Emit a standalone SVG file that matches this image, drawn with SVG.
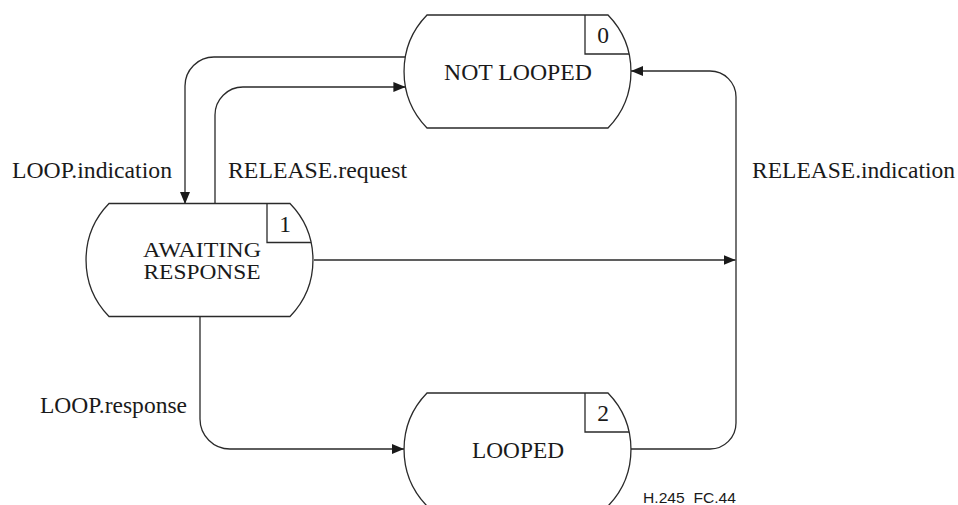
<svg xmlns="http://www.w3.org/2000/svg" width="958" height="505" viewBox="0 0 958 505">
  <style>
    .node { fill: #ffffff; stroke: #2a2a2a; stroke-width: 1.3; }
    .box { fill: none; stroke: #2a2a2a; stroke-width: 1.3; }
    .conn { fill: none; stroke: #2a2a2a; stroke-width: 1.3; }
    .t { font-size: 23.5px; fill: #1a1a1a; }
    .s { font-size: 21px; }
    .c { text-anchor: middle; }
    .ref { font-family: 'Liberation Sans', Arial, sans-serif; font-size: 15px; fill: #1a1a1a; white-space: pre; }
  </style>
  <defs>
    <marker id="arr" markerWidth="12" markerHeight="10" refX="12" refY="5" orient="auto" markerUnits="userSpaceOnUse">
      <path d="M0,0 L12,5 L0,10 Z" fill="#1a1a1a"/>
    </marker>
  </defs>
  <rect width="958" height="505" fill="#ffffff"/>

  <g id="connectors">
    <path class="conn" d="M405.3,57 H214 A29,29 0 0 0 185,86 V204" marker-end="url(#arr)"/>
    <path class="conn" d="M215,204 V115 A28,28 0 0 1 243,87 H405.4" marker-end="url(#arr)"/>
    <path class="conn" d="M314,260 H735.5" marker-end="url(#arr)"/>
    <path class="conn" d="M631,449 H710 A26,26 0 0 0 736,423 V97 A26,26 0 0 0 710,71 H631" marker-end="url(#arr)"/>
    <path class="conn" d="M200,316 V419 A30,30 0 0 0 230,449 H404" marker-end="url(#arr)"/>
  </g>

  <g font-family="Liberation Serif, DejaVu Serif, Noto Serif, serif">
  <g id="node-not-looped">
    <path class="node" d="M427,15 H608 A81,81 0 0 1 608,128 H427 A81,81 0 0 1 427,15 Z"/>
    <path class="box" d="M585,15 V54 H629.1"/>
    <text class="t c" x="603" y="43">0</text>
    <text class="t c" x="518" y="80" textLength="148" lengthAdjust="spacingAndGlyphs">NOT LOOPED</text>
  </g>

  <g id="node-awaiting-response">
    <path class="node" d="M109,203.5 H290 A81,81 0 0 1 290,316.5 H109 A81,81 0 0 1 109,203.5 Z"/>
    <path class="box" d="M267,203.5 V242.5 H311.1"/>
    <text class="t c" x="285" y="231.5">1</text>
    <text class="t s c" x="202" y="257" textLength="118" lengthAdjust="spacingAndGlyphs">AWAITING</text>
    <text class="t s c" x="202" y="279" textLength="117" lengthAdjust="spacingAndGlyphs">RESPONSE</text>
  </g>

  <g id="node-looped">
    <path class="node" d="M427,393 H608 A81,81 0 0 1 608,506 H427 A81,81 0 0 1 427,393 Z"/>
    <path class="box" d="M585,393 V432 H629.1"/>
    <text class="t c" x="603" y="421">2</text>
    <text class="t c" x="518" y="458" textLength="92" lengthAdjust="spacingAndGlyphs">LOOPED</text>
  </g>

  <g id="labels">
    <text class="t" x="12" y="178" textLength="160" lengthAdjust="spacingAndGlyphs">LOOP.indication</text>
    <text class="t" x="228" y="178" textLength="179" lengthAdjust="spacingAndGlyphs">RELEASE.request</text>
    <text class="t" x="752" y="178" textLength="203" lengthAdjust="spacingAndGlyphs">RELEASE.indication</text>
    <text class="t" x="40" y="413" textLength="147" lengthAdjust="spacingAndGlyphs">LOOP.response</text>
  </g>
  </g>
  <text class="ref" x="643" y="503" textLength="93" lengthAdjust="spacingAndGlyphs">H.245  FC.44</text>
</svg>
